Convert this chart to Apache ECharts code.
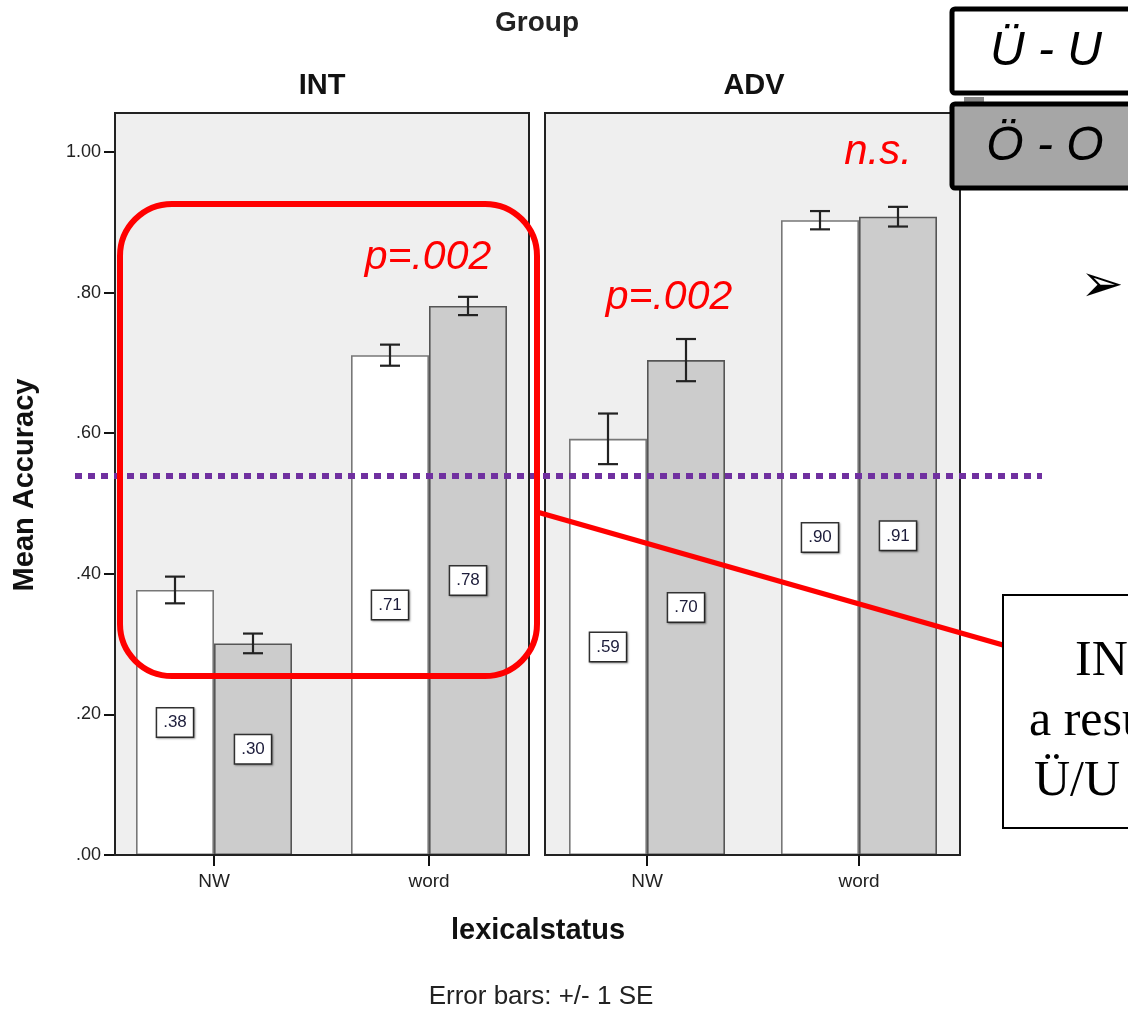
<!DOCTYPE html>
<html>
<head>
<meta charset="utf-8">
<script src="https://cdn.jsdelivr.net/npm/echarts@6/dist/echarts.min.js"></script>
<style>
html,body{margin:0;padding:0;background:#fff;}
#chart{width:1128px;height:1009px;}
</style>
</head>
<body>
<div id="chart"></div>
<script>
// ---- data ----
var groups = ['INT', 'ADV'];
var categories = ['NW', 'word'];
var seriesNames = ['Ü - U', 'Ö - O'];
var intUU = [0.377, 0.711];
var intOO = [0.301, 0.781];
var advUU = [0.592, 0.903];
var advOO = [0.704, 0.908];
var intUUse = [0.019, 0.015];
var intOOse = [0.014, 0.013];
var advUUse = [0.036, 0.013];
var advOOse = [0.030, 0.014];
var yTicks = [0, 0.2, 0.4, 0.6, 0.8, 1.0];

var chart = echarts.init(document.getElementById('chart'), null, {renderer: 'canvas'});
var FONT = '"Liberation Sans", Arial, sans-serif';
var SERIF = '"Liberation Serif", "Times New Roman", serif';

function fmtVal(v) {
  return v.toFixed(2).replace(/^0/, '');
}

function barSeries(name, data, idx, fill, border) {
  return {
    type: 'bar', name: name, data: data,
    xAxisIndex: idx, yAxisIndex: idx,
    barWidth: 78, barGap: '0%',
    itemStyle: {color: fill, borderColor: border, borderWidth: 1.6},
    label: {
      show: true, position: 'inside',
      formatter: function (p) { return fmtVal(p.value); },
      fontFamily: FONT, fontSize: 17, color: '#1c1c3a',
      backgroundColor: '#fff', borderColor: '#333', borderWidth: 1.5,
      padding: [6, 6, 5, 6],
      shadowColor: 'rgba(0,0,0,0.35)', shadowBlur: 2, shadowOffsetX: 1, shadowOffsetY: 1
    },
    z: 2
  };
}

function errSeries(vals, ses, idx, offsetSign) {
  var d = vals.map(function (v, i) { return [i, v, ses[i]]; });
  return {
    type: 'custom', xAxisIndex: idx, yAxisIndex: idx, z: 5,
    data: d,
    renderItem: function (params, api) {
      var c = api.value(0), v = api.value(1), se = api.value(2);
      var base = api.coord([c, v]);
      var x = base[0] + offsetSign * 39;
      var top = api.coord([c, v + se])[1];
      var bot = api.coord([c, v - se])[1];
      var st = {stroke: '#222', lineWidth: 2.2};
      return {type: 'group', children: [
        {type: 'line', shape: {x1: x, y1: top, x2: x, y2: bot}, style: st},
        {type: 'line', shape: {x1: x - 10, y1: top, x2: x + 10, y2: top}, style: st},
        {type: 'line', shape: {x1: x - 10, y1: bot, x2: x + 10, y2: bot}, style: st}
      ]};
    }
  };
}

function xAxisDef(idx) {
  return {
    type: 'category', gridIndex: idx, data: categories,
    axisLine: {show: false},
    axisTick: {show: true, alignWithLabel: true, length: 11, lineStyle: {color: '#111', width: 2}},
    axisLabel: {fontFamily: FONT, fontSize: 19, color: '#222', margin: 17},
    splitLine: {show: false}
  };
}

function yAxisDef(idx, showLabels, off) {
  return {
    type: 'value', gridIndex: idx, min: 0, max: 1.0555, offset: off,
    axisLine: {show: false},
    axisTick: {show: showLabels, length: 11, customValues: yTicks, lineStyle: {color: '#111', width: 2}},
    axisLabel: {show: showLabels, customValues: yTicks, fontFamily: FONT, fontSize: 18, color: '#222', margin: 14,
      formatter: function (v) { return v >= 1 ? v.toFixed(2) : fmtVal(v); }},
    splitLine: {show: false}
  };
}

var option = {
  backgroundColor: '#fff',
  animation: false,
  grid: [
    {left: 106.5, top: 113, width: 430, height: 742},
    {left: 541, top: 113, width: 424, height: 742}
  ],
  xAxis: [xAxisDef(0), xAxisDef(1)],
  yAxis: [yAxisDef(0, true, -8.5), yAxisDef(1, false, 0)],
  series: [
    barSeries(seriesNames[0], intUU, 0, '#ffffff', '#777'),
    barSeries(seriesNames[1], intOO, 0, '#cccccc', '#555'),
    barSeries(seriesNames[0], advUU, 1, '#ffffff', '#777'),
    barSeries(seriesNames[1], advOO, 1, '#cccccc', '#555'),
    errSeries(intUU, intUUse, 0, -1),
    errSeries(intOO, intOOse, 0, 1),
    errSeries(advUU, advUUse, 1, -1),
    errSeries(advOO, advOOse, 1, 1)
  ],
  graphic: [
    // panel frames
    {type: 'rect', z: -10, silent: true, shape: {x: 115, y: 113, width: 414, height: 742}, style: {fill: '#efefef'}},
    {type: 'rect', z: -10, silent: true, shape: {x: 545, y: 113, width: 415, height: 742}, style: {fill: '#efefef'}},
    {type: 'rect', z: 8, silent: true, shape: {x: 115, y: 113, width: 414, height: 742}, style: {fill: 'none', stroke: '#222', lineWidth: 2}},
    {type: 'rect', z: 8, silent: true, shape: {x: 545, y: 113, width: 415, height: 742}, style: {fill: 'none', stroke: '#222', lineWidth: 2}},
    // titles
    {type: 'text', x: 537, y: 23, z: 10, style: {text: 'Group', font: 'bold 28px ' + FONT, fill: '#222', align: 'center', verticalAlign: 'middle'}},
    {type: 'text', x: 322, y: 86, z: 10, style: {text: groups[0], font: 'bold 29px ' + FONT, fill: '#111', align: 'center', verticalAlign: 'middle'}},
    {type: 'text', x: 754, y: 86, z: 10, style: {text: groups[1], font: 'bold 29px ' + FONT, fill: '#111', align: 'center', verticalAlign: 'middle'}},
    {type: 'text', x: 25, y: 485, rotation: Math.PI / 2, z: 10, style: {text: 'Mean Accuracy', font: 'bold 29px ' + FONT, fill: '#111', align: 'center', verticalAlign: 'middle'}},
    {type: 'text', x: 538, y: 931, z: 10, style: {text: 'lexicalstatus', font: 'bold 29px ' + FONT, fill: '#111', align: 'center', verticalAlign: 'middle'}},
    {type: 'text', x: 541, y: 997, z: 10, style: {text: 'Error bars: +/- 1 SE', font: '26px ' + FONT, fill: '#222', align: 'center', verticalAlign: 'middle'}},
    // purple dotted line
    {type: 'line', z: 20, shape: {x1: 75, y1: 476, x2: 1042, y2: 476}, style: {stroke: '#7030a0', lineWidth: 6, lineDash: [7, 6]}},
    // red highlight
    {type: 'rect', z: 21, shape: {x: 120, y: 204, width: 417, height: 472, r: 52}, style: {fill: 'none', stroke: '#ff0000', lineWidth: 6}},
    {type: 'line', z: 21, shape: {x1: 537, y1: 512, x2: 1003, y2: 645}, style: {stroke: '#ff0000', lineWidth: 5}},
    // significance texts
    {type: 'text', x: 428, y: 258, z: 22, style: {text: 'p=.002', font: 'italic 41px ' + FONT, fill: '#ff0000', align: 'center', verticalAlign: 'middle'}},
    {type: 'text', x: 669, y: 298, z: 22, style: {text: 'p=.002', font: 'italic 41px ' + FONT, fill: '#ff0000', align: 'center', verticalAlign: 'middle'}},
    {type: 'text', x: 878, y: 152, z: 22, style: {text: 'n.s.', font: 'italic 42px ' + FONT, fill: '#ff0000', align: 'center', verticalAlign: 'middle'}},
    // legend boxes
    {type: 'rect', z: 30, shape: {x: 964, y: 97, width: 20, height: 5}, style: {fill: '#888'}},
    {type: 'rect', z: 31, shape: {x: 952, y: 9, width: 200, height: 84, r: 3}, style: {fill: '#fff', stroke: '#000', lineWidth: 5}},
    {type: 'text', x: 1046, y: 52, z: 32, style: {text: seriesNames[0], font: 'italic 48px ' + FONT, fill: '#000', align: 'center', verticalAlign: 'middle'}},
    {type: 'rect', z: 31, shape: {x: 952, y: 104, width: 200, height: 84, r: 3}, style: {fill: '#a6a6a6', stroke: '#000', lineWidth: 5}},
    {type: 'text', x: 1045, y: 147, z: 32, style: {text: seriesNames[1], font: 'italic 48px ' + FONT, fill: '#000', align: 'center', verticalAlign: 'middle'}},
    // arrow bullet
    {type: 'text', x: 1102, y: 287, z: 32, style: {text: '➢', font: '52px "DejaVu Sans", sans-serif', fill: '#000', align: 'center', verticalAlign: 'middle'}},
    // note box
    {type: 'rect', z: 31, shape: {x: 1003, y: 595, width: 200, height: 233}, style: {fill: '#fff', stroke: '#000', lineWidth: 2}},
    {type: 'text', x: 1075, y: 662, z: 32, style: {text: 'INT', font: '50px ' + SERIF, fill: '#000', align: 'left', verticalAlign: 'middle'}},
    {type: 'text', x: 1029, y: 722, z: 32, style: {text: 'a result', font: '50px ' + SERIF, fill: '#000', align: 'left', verticalAlign: 'middle'}},
    {type: 'text', x: 1034, y: 782, z: 32, style: {text: 'Ü/U', font: '50px ' + SERIF, fill: '#000', align: 'left', verticalAlign: 'middle'}}
  ]
};
chart.setOption(option);
</script>
</body>
</html>
